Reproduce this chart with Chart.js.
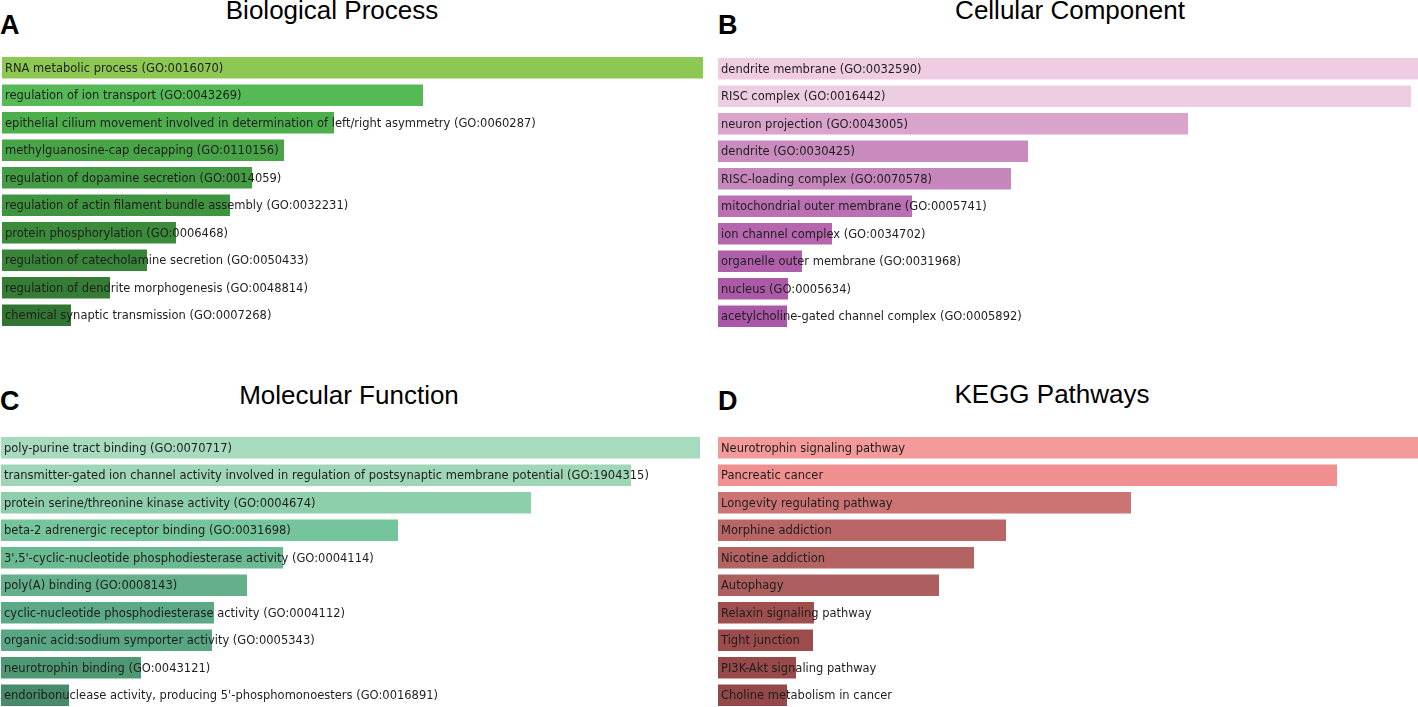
<!DOCTYPE html>
<html>
<head>
<meta charset="utf-8">
<script src="https://cdn.jsdelivr.net/npm/chart.js@4.4.1/dist/chart.umd.min.js"></script>
<style>
  html, body { margin: 0; padding: 0; background: #fff; overflow: hidden; }
  body { width: 1418px; height: 707px; position: relative; }
  .title { position: absolute; font-family: "Liberation Sans", Arial, sans-serif; font-size: 26px; color: #000; white-space: nowrap; transform: translateX(-50%); line-height: 1; }
  .letter { position: absolute; font-family: "Liberation Sans", Arial, sans-serif; font-size: 27px; font-weight: bold; color: #000; line-height: 1; }
  canvas { position: absolute; }
</style>
</head>
<body>
<div class="letter" style="left:0px; top:12px;">A</div>
<div class="letter" style="left:718px; top:12px;">B</div>
<div class="letter" style="left:0px; top:388px;">C</div>
<div class="letter" style="left:718px; top:388px;">D</div>
<div class="title" style="left:332px; top:-3px;">Biological Process</div>
<div class="title" style="left:1070px; top:-3px;">Cellular Component</div>
<div class="title" style="left:349px; top:382px;">Molecular Function</div>
<div class="title" style="left:1052px; top:381px;">KEGG Pathways</div>

<canvas id="bp" style="left:2px; top:54px;" width="701" height="275"></canvas>
<canvas id="cc" style="left:718px; top:55px;" width="700" height="275"></canvas>
<canvas id="mf" style="left:1px; top:434px;" width="699" height="275"></canvas>
<canvas id="kegg" style="left:718px; top:434px;" width="700" height="275"></canvas>

<script>
// Biological Process
const bpLabels = [
  'RNA metabolic process (GO:0016070)',
  'regulation of ion transport (GO:0043269)',
  'epithelial cilium movement involved in determination of left/right asymmetry (GO:0060287)',
  'methylguanosine-cap decapping (GO:0110156)',
  'regulation of dopamine secretion (GO:0014059)',
  'regulation of actin filament bundle assembly (GO:0032231)',
  'protein phosphorylation (GO:0006468)',
  'regulation of catecholamine secretion (GO:0050433)',
  'regulation of dendrite morphogenesis (GO:0048814)',
  'chemical synaptic transmission (GO:0007268)'
];
const bpScores = [70.1, 42.1, 33.2, 28.2, 25.0, 22.8, 17.4, 14.5, 10.8, 6.9];
const bpColors = ['#8dc952', '#55b955', '#4caf4c', '#47a547', '#439c43', '#3f943f', '#3b8b3b', '#388438', '#357c35', '#327432'];

// Cellular Component
const ccLabels = [
  'dendrite membrane (GO:0032590)',
  'RISC complex (GO:0016442)',
  'neuron projection (GO:0043005)',
  'dendrite (GO:0030425)',
  'RISC-loading complex (GO:0070578)',
  'mitochondrial outer membrane (GO:0005741)',
  'ion channel complex (GO:0034702)',
  'organelle outer membrane (GO:0031968)',
  'nucleus (GO:0005634)',
  'acetylcholine-gated channel complex (GO:0005892)'
];
const ccScores = [70.5, 69.3, 47.0, 31.0, 29.3, 19.4, 11.4, 8.4, 7.0, 6.9];
const ccColors = ['#f0cce3', '#edcde2', '#d9a3cb', '#c98bbd', '#c686bb', '#bb70b3', '#b566ae', '#b060ab', '#ac5aa8', '#aa58a7'];

// Molecular Function
const mfLabels = [
  'poly-purine tract binding (GO:0070717)',
  'transmitter-gated ion channel activity involved in regulation of postsynaptic membrane potential (GO:1904315)',
  'protein serine/threonine kinase activity (GO:0004674)',
  'beta-2 adrenergic receptor binding (GO:0031698)',
  "3',5'-cyclic-nucleotide phosphodiesterase activity (GO:0004114)",
  'poly(A) binding (GO:0008143)',
  'cyclic-nucleotide phosphodiesterase activity (GO:0004112)',
  'organic acid:sodium symporter activity (GO:0005343)',
  'neurotrophin binding (GO:0043121)',
  "endoribonuclease activity, producing 5'-phosphomonoesters (GO:0016891)"
];
const mfScores = [69.9, 63.0, 53.0, 39.7, 28.2, 24.6, 21.3, 21.1, 14.0, 6.8];
const mfColors = ['#a8dbbd', '#9fd6b5', '#8ecfab', '#74c59b', '#69b991', '#63b08b', '#5ba986', '#58a683', '#4f9874', '#478b6a'];

// KEGG Pathways
const keggLabels = [
  'Neurotrophin signaling pathway',
  'Pancreatic cancer',
  'Longevity regulating pathway',
  'Morphine addiction',
  'Nicotine addiction',
  'Autophagy',
  'Relaxin signaling pathway',
  'Tight junction',
  'PI3K-Akt signaling pathway',
  'Choline metabolism in cancer'
];
const keggScores = [70.0, 61.9, 41.3, 28.8, 25.6, 22.1, 9.6, 9.5, 7.8, 6.9];
const keggColors = ['#f49a9a', '#f08f8f', '#cc7373', '#ba6666', '#b46363', '#ad5e5e', '#9f4e4e', '#9c4c4c', '#984a4a', '#954848'];

// writes each term's name inside its bar, starting at the left edge
const barLabels = {
  id: 'barLabels',
  afterDatasetsDraw(chart) {
    const ctx = chart.ctx;
    const meta = chart.getDatasetMeta(0);
    ctx.save();
    ctx.font = '11.5px "DejaVu Sans", sans-serif';
    ctx.fillStyle = '#1e1e1e';
    ctx.textBaseline = 'middle';
    ctx.textAlign = 'left';
    meta.data.forEach((bar, i) => {
      ctx.fillText(chart.data.labels[i], chart.chartArea.left + 3, bar.y + 1);
    });
    ctx.restore();
  }
};

function drawPanel(id, labels, scores, colors, maxScore) {
  new Chart(document.getElementById(id), {
    type: 'bar',
    data: {
      labels: labels,
      datasets: [{
        data: scores,
        backgroundColor: colors,
        borderWidth: 0,
        barPercentage: 0.78,
        categoryPercentage: 1
      }]
    },
    options: {
      indexAxis: 'y',
      responsive: false,
      animation: false,
      layout: { padding: 0 },
      scales: {
        x: { display: false, min: 0, max: maxScore },
        y: { display: false }
      },
      plugins: {
        legend: { display: false },
        tooltip: { enabled: false }
      }
    },
    plugins: [barLabels]
  });
}

drawPanel('bp', bpLabels, bpScores, bpColors, 70.1);
drawPanel('cc', ccLabels, ccScores, ccColors, 70.0);
drawPanel('mf', mfLabels, mfScores, mfColors, 69.9);
drawPanel('kegg', keggLabels, keggScores, keggColors, 70.0);
</script>
</body>
</html>
